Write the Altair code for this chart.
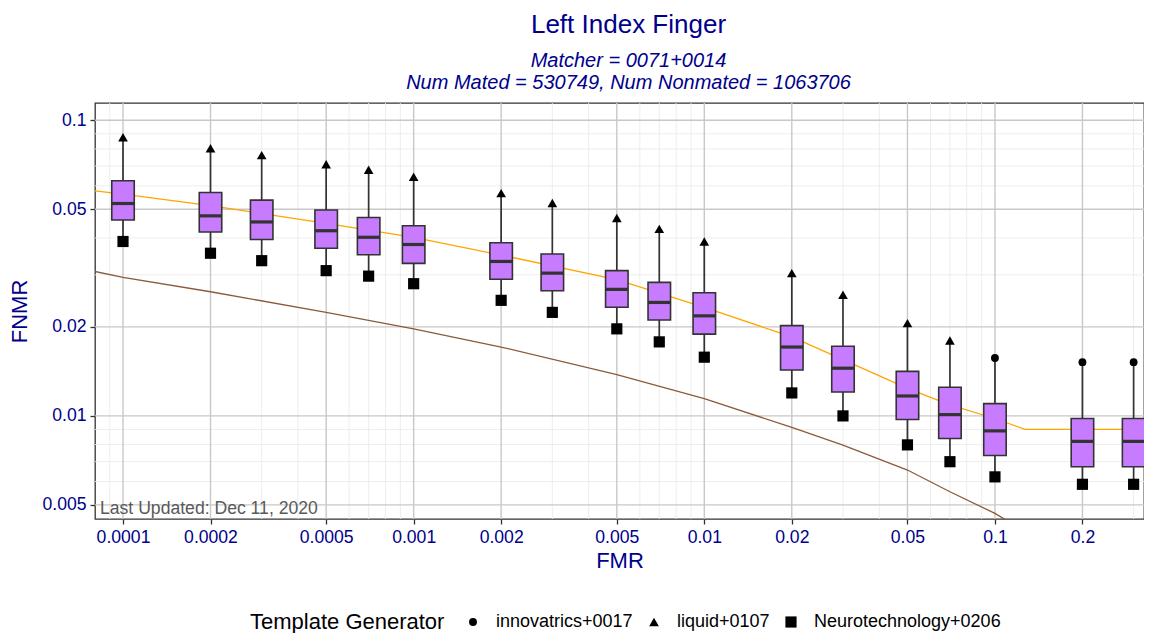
import altair as alt
import pandas as pd

# ---------------- data ----------------
fmr = [0.0001, 0.0002, 0.0003, 0.0005, 0.0007, 0.001, 0.002, 0.003, 0.005,
       0.007, 0.01, 0.02, 0.03, 0.05, 0.07, 0.1, 0.2, 0.3]
hi = [0.0876, 0.0804, 0.0762, 0.0710, 0.0680, 0.0644, 0.0567, 0.0525, 0.0467,
      0.0429, 0.0389, 0.0304, 0.0257, 0.0206, 0.0180, 0.0157, 0.0152, 0.0152]
q3 = [0.0624, 0.0570, 0.0537, 0.0497, 0.0469, 0.0440, 0.0385, 0.0353, 0.0310,
      0.0283, 0.0261, 0.0202, 0.0172, 0.01415, 0.0125, 0.0110, 0.0098, 0.0098]
med = [0.0523, 0.0475, 0.0453, 0.0423, 0.0402, 0.0380, 0.0333, 0.0304, 0.0268,
       0.0242, 0.0218, 0.0171, 0.0145, 0.01168, 0.0101, 0.0089, 0.0082, 0.0082]
q1 = [0.0460, 0.0419, 0.0395, 0.0369, 0.0351, 0.0328, 0.0290, 0.0265, 0.0233,
      0.0211, 0.0189, 0.0143, 0.01205, 0.00972, 0.00839, 0.00735, 0.00673, 0.00673]
lo = [0.0389, 0.0355, 0.0335, 0.0310, 0.0297, 0.0280, 0.0246, 0.0224, 0.0197,
      0.0178, 0.0158, 0.01196, 0.0100, 0.00798, 0.0070, 0.00622, 0.00587, 0.00587]
top_gen = ["liquid+0107", "liquid+0107", "liquid+0107", "liquid+0107", "liquid+0107",
           "liquid+0107", "liquid+0107", "liquid+0107", "liquid+0107", "liquid+0107",
           "liquid+0107", "liquid+0107", "liquid+0107", "liquid+0107", "liquid+0107",
           "innovatrics+0017", "innovatrics+0017", "innovatrics+0017"]
bottom_gen = "Neurotechnology+0206"
generators = ["innovatrics+0017", "liquid+0107", "Neurotechnology+0206"]

orange_fmr = [0.00008, 0.0001, 0.0002, 0.0005, 0.001, 0.002, 0.005, 0.01, 0.02,
              0.03, 0.05, 0.07, 0.1, 0.127, 0.35]
orange_fnmr = [0.0577, 0.0563, 0.0514, 0.0448, 0.0402, 0.0350, 0.0289, 0.0233, 0.0185,
               0.0155, 0.0124, 0.0109, 0.0098, 0.0090, 0.0090]
brown_fmr = [0.00008, 0.0001, 0.0002, 0.0005, 0.001, 0.002, 0.005, 0.01, 0.02,
             0.03, 0.05, 0.07, 0.1, 0.12]
brown_fnmr = [0.0308, 0.0294, 0.0263, 0.0224, 0.0197, 0.0171, 0.0138, 0.01145, 0.00914,
              0.00796, 0.00656, 0.00554, 0.00468, 0.0042]

x_major = [0.0001, 0.0002, 0.0005, 0.001, 0.002, 0.005, 0.01, 0.02, 0.05, 0.1, 0.2]
x_minor = [0.00009, 0.0003, 0.0004, 0.0006, 0.0007, 0.0008, 0.0009,
           0.003, 0.004, 0.006, 0.007, 0.008, 0.009,
           0.03, 0.04, 0.06, 0.07, 0.08, 0.09, 0.3]
y_major = [0.005, 0.01, 0.02, 0.05, 0.1]
y_minor = [0.006, 0.007, 0.008, 0.009, 0.03, 0.04, 0.06, 0.07, 0.08, 0.09]

updated_text = ["Last Updated: Dec 11, 2020"]

# ---------------- tables ----------------
box_df = pd.DataFrame({"fmr": fmr, "lo": lo, "q1": q1, "med": med, "q3": q3, "hi": hi})
pts_df = pd.concat([
    pd.DataFrame({"fmr": fmr, "val": hi, "gen": top_gen}),
    pd.DataFrame({"fmr": fmr, "val": lo, "gen": [bottom_gen] * len(fmr)}),
], ignore_index=True)
orange_df = pd.DataFrame({"fmr": orange_fmr, "fnmr": orange_fnmr})
brown_df = pd.DataFrame({"fmr": brown_fmr, "fnmr": brown_fnmr})

FONT = "Liberation Sans"
BLUE = "#00008B"

xscale = alt.Scale(type="log", domain=[0.0000801, 0.3257], nice=False, padding=0)
yscale = alt.Scale(type="log", domain=[0.00448, 0.1144], nice=False, padding=0)
xaxis = alt.Axis(title="FMR", values=x_major, format="~g")
yaxis = alt.Axis(title="FNMR", values=y_major, format="~g")


def X(f):
    return alt.X(f, type="quantitative", scale=xscale, axis=xaxis)


def Y(f):
    return alt.Y(f, type="quantitative", scale=yscale, axis=yaxis)


legend = alt.Legend(
    title="Template Generator", orient="none", legendX=155, legendY=510,
    direction="horizontal", titleOrient="left",
    titleFont=FONT, titleFontSize=22, titleFontWeight="normal", titleColor="black",
    titleLimit=0, labelLimit=0,
    labelFont=FONT, labelFontSize=18, labelColor="black",
    symbolFillColor="black", symbolStrokeColor="black",
    symbolStrokeWidth=0, labelOffset=14, columnPadding=12, titlePadding=19,
)

minor_x = alt.Chart(pd.DataFrame({"v": x_minor})).mark_rule(
    color="#ebebeb", strokeWidth=0.9).encode(x=X("v"))
minor_y = alt.Chart(pd.DataFrame({"v": y_minor})).mark_rule(
    color="#ebebeb", strokeWidth=0.9).encode(y=Y("v"))
major_x = alt.Chart(pd.DataFrame({"v": x_major})).mark_rule(
    color="#c8c8c8", strokeWidth=1.4).encode(x=X("v"))
major_y = alt.Chart(pd.DataFrame({"v": y_major})).mark_rule(
    color="#c8c8c8", strokeWidth=1.4).encode(y=Y("v"))

orange = alt.Chart(orange_df).mark_line(color="#FFA500", strokeWidth=1.3, clip=True).encode(
    x=X("fmr"), y=Y("fnmr"))
brown = alt.Chart(brown_df).mark_line(color="#8B5A3C", strokeWidth=1.3, clip=True).encode(
    x=X("fmr"), y=Y("fnmr"))

whiskers = alt.Chart(box_df).mark_rule(color="#333333", strokeWidth=1.7).encode(
    x=X("fmr"), y=Y("lo"), y2="hi")
boxes = alt.Chart(box_df).mark_bar(size=22.5, fill="#C77CFF", stroke="#333333",
                                   strokeWidth=1.6, opacity=1).encode(
    x=X("fmr"), y=Y("q1"), y2="q3")
medians = alt.Chart(box_df).mark_tick(orient="horizontal", size=22.5, thickness=3.2,
                                      color="#333333", opacity=1).encode(
    x=X("fmr"), y=Y("med"))
points = alt.Chart(pts_df).mark_point(filled=True, opacity=1, color="black").encode(
    x=X("fmr"), y=Y("val"),
    shape=alt.Shape(
        "gen:N",
        scale=alt.Scale(domain=generators, range=["circle", "triangle-up", "square"]),
        legend=legend),
    size=alt.Size("gen:N", scale=alt.Scale(domain=generators, range=[62, 125, 62]),
                  legend=legend),
)
note = alt.Chart(pd.DataFrame({"t": updated_text})).mark_text(
    align="left", baseline="alphabetic", fontSize=17.6, font=FONT, color="#595959").encode(
    x=alt.value(5), y=alt.value(411), text="t:N")

chart = alt.layer(
    minor_x, minor_y, major_x, major_y, orange, brown, whiskers, boxes, medians, points, note
).properties(
    width=1049, height=416,
    autosize=alt.AutoSizeParams(type="none"),
    padding={"left": 87, "top": 95, "right": 0, "bottom": 114},
    title=alt.TitleParams(
        text="Left Index Finger",
        subtitle=["Matcher = 0071+0014", "Num Mated = 530749, Num Nonmated = 1063706"],
        font=FONT, fontSize=26, fontWeight="normal", color=BLUE,
        subtitleFont=FONT, subtitleFontSize=20, subtitleFontStyle="italic",
        subtitleColor=BLUE, subtitleLineHeight=22, subtitlePadding=13,
        anchor="middle", frame="group", offset=9, dx=9,
    ),
).configure_view(
    stroke="#333333", strokeWidth=1.3
).configure_axis(
    domain=False, grid=False, ticks=True, tickColor="#333333", tickWidth=1.3, tickSize=5,
    labelFont=FONT, labelFontSize=17.6, labelColor=BLUE, labelPadding=4,
    titleFont=FONT, titleFontSize=22, titleFontWeight="normal", titleColor=BLUE,
).configure_axisX(
    titlePadding=5
).configure_axisY(
    titlePadding=10
)

chart.save("out.html", embed_options={"renderer": "svg", "actions": False})
